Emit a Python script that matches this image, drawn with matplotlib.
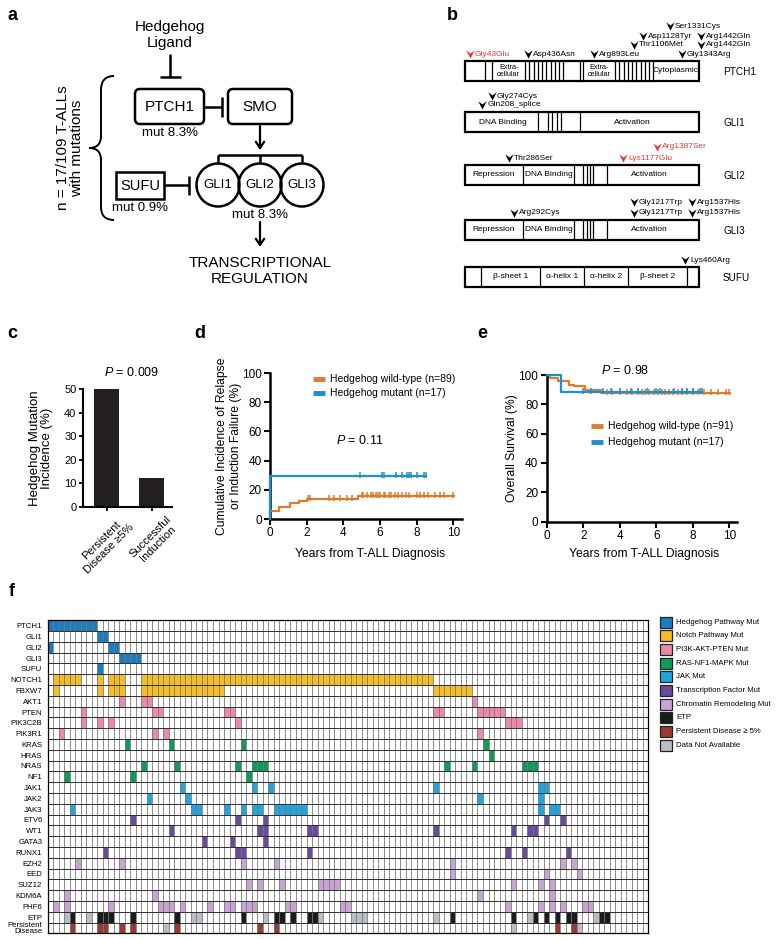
import numpy as np
import matplotlib
matplotlib.use("Agg")
import matplotlib.pyplot as plt
from matplotlib.patches import FancyBboxPatch, Rectangle, Circle, PathPatch
from matplotlib.path import Path
from matplotlib.colors import ListedColormap

# ── data ───────────────────────────────────────────────────────────────
# c: hedgehog mutation incidence by induction response
c_groups = ["Persistent\nDisease \u22655%", "Successful\nInduction"]
c_values = [50.0, 12.1]

# d: cumulative incidence of relapse / induction failure (step curves)
d_wt_t = [0, 0, 0.5, 1.1, 1.6, 2.0, 4.8, 10.05]
d_wt_v = [0, 5.6, 7.9, 11.2, 12.4, 13.6, 15.8, 15.8]
d_wt_cens = [2.1, 2.2, 3.2, 3.5, 3.8, 4.2, 4.5, 5.0, 5.1, 5.3, 5.5, 5.6, 5.8, 5.9,
             6.0, 6.2, 6.3, 6.5, 6.6, 6.8, 7.0, 7.2, 7.4, 7.6, 8.0, 8.2, 8.4, 8.6,
             9.0, 9.3, 9.5, 10.0]
d_mut_t = [0, 0, 8.5]
d_mut_v = [0, 29.4, 29.4]
d_mut_cens = [4.9, 6.1, 6.2, 6.9, 7.2, 7.5, 7.6, 7.7, 8.0, 8.4, 8.5]

# e: overall survival
e_wt_t = [0, 0.2, 0.6, 1.2, 1.5, 2.1, 3.0, 10.05]
e_wt_v = [100, 97.8, 95.6, 93.4, 92.3, 90.1, 87.9, 87.9]
e_wt_cens = [3.3, 3.6, 4.0, 4.4, 4.7, 5.0, 5.2, 5.4, 5.6, 5.9, 6.1, 6.3, 6.5, 6.7,
             6.9, 7.2, 7.4, 7.7, 8.0, 8.3, 8.6, 9.0, 9.4, 9.8, 10.0]
e_mut_t = [0, 0.8, 8.5]
e_mut_v = [100, 88.2, 88.2]
e_mut_cens = [2.0, 2.4, 3.1, 3.5, 4.0, 4.6, 5.0, 5.5, 6.0, 6.2, 7.0, 7.4, 7.7, 8.0, 8.4, 8.5]

# f: mutation matrix, column indices of mutated patients per gene
N_PAT = 109
row_labels = ["PTCH1", "GLI1", "GLI2", "GLI3", "SUFU", "NOTCH1", "FBXW7", "AKT1", "PTEN",
              "PIK3C2B", "PIK3R1", "KRAS", "HRAS", "NRAS", "NF1", "JAK1", "JAK2", "JAK3",
              "ETV6", "WT1", "GATA3", "RUNX1", "EZH2", "EED", "SUZ12", "KDM6A", "PHF6",
              "ETP", "Persistent\nDisease"]
row_group = [1, 1, 1, 1, 1, 2, 2, 3, 3, 3, 3, 4, 4, 4, 4, 5, 5, 5, 6, 6, 6, 6, 7, 7, 7, 7, 7]
gene_cols = [
    list(range(0, 9)),                                              # PTCH1
    [9, 10],                                                        # GLI1
    [0, 11, 12],                                                    # GLI2
    [13, 14, 15, 16],                                               # GLI3
    [9],                                                            # SUFU
    list(range(1, 6)) + [9, 11, 12, 13] + list(range(17, 70)),      # NOTCH1
    [1, 9, 11, 12, 13] + list(range(17, 32)) + list(range(70, 77)), # FBXW7
    [13, 17, 18, 77],                                               # AKT1
    [6, 19, 20, 32, 33, 70, 71, 78, 79, 80, 81, 82],                # PTEN
    [6, 9, 11, 34, 83, 84, 85],                                     # PIK3C2B
    [2, 19, 21, 78],                                                # PIK3R1
    [14, 22, 35, 79],                                               # KRAS
    [80],                                                           # HRAS
    [17, 23, 34, 37, 38, 39, 72, 77, 86, 87, 88],                   # NRAS
    [3, 15, 36],                                                    # NF1
    [24, 37, 40, 70, 89, 90],                                       # JAK1
    [18, 25, 78, 89],                                               # JAK2
    [4, 26, 27, 32, 35, 37, 38, 41, 42, 43, 44, 45, 46, 89, 91, 92],# JAK3
    [15, 34, 39, 90, 93],                                           # ETV6
    [22, 38, 39, 47, 48, 70, 84, 87, 88],                           # WT1
    [28, 33, 39],                                                   # GATA3
    [10, 34, 35, 47, 83, 86, 94],                                   # RUNX1
    [5, 13, 35, 41, 73, 93, 95],                                    # EZH2
    [73, 90, 96],                                                   # EED
    [36, 38, 42, 49, 50, 51, 52, 84, 89, 91],                       # SUZ12
    [3, 19, 78, 91],                                                # KDM6A
    [1, 3, 11, 20, 21, 22, 24, 29, 32, 33, 35, 36, 37, 43, 44, 53, 54,
     83, 89, 91, 93, 97, 98],                                       # PHF6
]
etp_pos = [4, 9, 10, 11, 15, 23, 35, 41, 42, 44, 47, 48, 73, 84, 88, 90, 92, 94, 95, 100, 101]
etp_na = [3, 7, 26, 27, 39, 49, 55, 56, 57, 70, 87, 99]
persist_pos = [4, 9, 10, 13, 15, 23, 38, 41, 92, 95]
persist_na = [21, 84, 96]

legend_labels = ["Hedgehog Pathway Mut", "Notch Pathway Mut", "PI3K-AKT-PTEN Mut",
                 "RAS-NF1-MAPK Mut", "JAK Mut", "Transcription Factor Mut",
                 "Chromatin Remodeling Mut", "ETP", "Persistent Disease \u2265 5%",
                 "Data Not Available"]
cat_colors = ["#ffffff", "#1c7cc0", "#f5bd27", "#ee87a8", "#0d9b57", "#20a5de",
              "#6a4a9c", "#c9a3d4", "#1b1b1b", "#9a3b33", "#b9bec6"]

# b: protein domain maps
proteins = ["PTCH1", "GLI1", "GLI2", "GLI3", "SUFU"]
prot_y = [61, 112, 165, 219.5, 267]   # bar tops (px)
PROT_X0, PROT_X1, PROT_H = 465, 699, 20
stripes1 = list(np.linspace(525, 563.3, 10))
stripes2 = list(np.linspace(615, 653.3, 10))
prot_dividers = [
    [485, 492.3] + stripes1 + [580, 583.3] + stripes2,
    [538.3, 548.3, 552.3, 556.7, 561, 580],
    [523.3, 574, 583, 586.5, 589.5, 592.5, 607],
    [523.3, 574, 583, 586.5, 589.5, 592.5, 607],
    [481, 540, 584, 628.3, 687.3],
]
prot_domains = [
    [("Extra-\ncellular", 508.7), ("Extra-\ncellular", 599), ("Cytoplasmic", 676)],
    [("DNA Binding", 503), ("Activation", 632.7)],
    [("Repression", 494), ("DNA Binding", 549), ("Activation", 649)],
    [("Repression", 494), ("DNA Binding", 549), ("Activation", 649)],
    [("\u03b2-sheet 1", 510.5), ("\u03b1-helix 1", 562), ("\u03b1-helix 2", 606), ("\u03b2-sheet 2", 658)],
]
# (x, y, label, highlighted)
mutations = [
    (470, 54, "Gly43Glu", True), (527.7, 54, "Asp436Asn", False),
    (594.3, 54, "Arg893Leu", False), (681.7, 54, "Gly1343Arg", False),
    (634, 45, "Thr1106Met", False), (701, 45, "Arg1442Gln", False),
    (643, 36, "Asp1128Tyr", False), (701, 36, "Arg1442Gln", False),
    (670, 26, "Ser1331Cys", False),
    (491.7, 96, "Gly274Cys", False), (482.3, 105, "Gln208_splice", False),
    (508.7, 158, "Thr286Ser", False), (623.3, 158, "Lys1177Glu", True),
    (657.3, 147, "Arg1387Ser", True),
    (514.3, 213, "Arg292Cys", False), (634, 213, "Gly1217Trp", False),
    (691.7, 213, "Arg1537His", False), (634, 202, "Gly1217Trp", False),
    (691.7, 202, "Arg1537His", False),
    (685, 260, "Lys460Arg", False),
]

# ── style ──────────────────────────────────────────────────────────────
W, H = 776, 939
plt.rcParams["font.family"] = ["Liberation Sans", "DejaVu Sans"]
plt.rcParams["mathtext.fontset"] = "custom"
plt.rcParams["mathtext.it"] = "Liberation Sans:italic"
plt.rcParams["mathtext.rm"] = "Liberation Sans"
ORANGE = "#e07a2a"
BLUE = "#1b8fd4"
RED = "#e8383d"

fig = plt.figure(figsize=(W / 100, H / 100), dpi=100)


def add_ax(x0, y0, x1, y1, **kw):
    return fig.add_axes([x0 / W, 1 - y1 / H, (x1 - x0) / W, (y1 - y0) / H], **kw)


# overlay in pixel coordinates for diagrams and free text
ov = add_ax(0, 0, W, H, zorder=5)
ov.set_xlim(0, W)
ov.set_ylim(H, 0)
ov.axis("off")

for lbl, (x, y) in zip("abcdef", [(12, 15), (452, 15), (12, 334), (200, 334), (482, 334), (12, 592)]):
    ov.text(x, y, lbl, fontsize=13, fontweight="bold", ha="center", va="center")

# ── a: pathway diagram ─────────────────────────────────────────────────
k = dict(color="k", lw=1.8, solid_capstyle="butt")
ov.text(170, 35, "Hedgehog\nLigand", fontsize=11, ha="center", va="center", linespacing=1.1)
ov.plot([170, 170], [54, 77], **k)
ov.plot([160, 181], [77, 77], **k)
for x0, x1, txt in [(135, 204, "PTCH1"), (228, 292, "SMO")]:
    ov.add_patch(FancyBboxPatch((x0, 89), x1 - x0, 35, boxstyle="round,pad=0,rounding_size=5",
                                fc="white", ec="k", lw=1.8))
    ov.text((x0 + x1) / 2, 107, txt, fontsize=11, ha="center", va="center")
ov.plot([204, 222], [107, 107], **k)
ov.plot([222, 222], [97, 117], **k)
ov.text(170, 133, "mut 8.3%", fontsize=9.5, ha="center", va="center")
arrow = dict(arrowstyle="->,head_length=0.45,head_width=0.3", lw=1.6, color="k",
             shrinkA=0, shrinkB=0)
ov.annotate("", xy=(260, 150), xytext=(260, 126), arrowprops=arrow)
ov.plot([218, 302], [155, 155], **k)
for x in [218, 260, 302]:
    ov.plot([x, x], [155, 162], **k)
for x, g in zip([218, 260, 302], ["GLI1", "GLI2", "GLI3"]):
    ov.add_patch(Circle((x, 185), 21.5, fc="none", ec="k", lw=1.8))
    ov.text(x, 185, g, fontsize=9.5, ha="center", va="center")
ov.add_patch(Rectangle((116, 172), 48, 27, fc="white", ec="k", lw=1.8))
ov.text(140, 185.5, "SUFU", fontsize=10.5, ha="center", va="center")
ov.plot([164, 189], [185, 185], **k)
ov.plot([189, 189], [176, 195], **k)
ov.text(140, 208, "mut 0.9%", fontsize=9.5, ha="center", va="center")
ov.text(260, 215, "mut 8.3%", fontsize=9.5, ha="center", va="center")
ov.annotate("", xy=(260, 247), xytext=(260, 222), arrowprops=arrow)
ov.text(260, 271, "TRANSCRIPTIONAL\nREGULATION", fontsize=11, ha="center", va="center",
        linespacing=1.2)
brace = Path(
    [(114, 76), (101, 76), (101, 90), (101, 136), (101, 148), (89, 148),
     (101, 148), (101, 160), (101, 207), (101, 220), (114, 220)],
    [Path.MOVETO, Path.CURVE3, Path.CURVE3, Path.LINETO, Path.CURVE3, Path.CURVE3,
     Path.CURVE3, Path.CURVE3, Path.LINETO, Path.CURVE3, Path.CURVE3])
ov.add_patch(PathPatch(brace, fc="none", ec="k", lw=1.4))
ov.text(70, 148, "n = 17/109 T-ALLs\nwith mutations", fontsize=11, rotation=90,
        ha="center", va="center", linespacing=1.05)

# ── b: protein maps ────────────────────────────────────────────────────
chevron = Path([(-1, 1), (0, -1), (1, 1), (0, 0.25), (-1, 1)],
               [Path.MOVETO, Path.LINETO, Path.LINETO, Path.LINETO, Path.CLOSEPOLY])
for name, y0, divs, doms in zip(proteins, prot_y, prot_dividers, prot_domains):
    ov.add_patch(Rectangle((PROT_X0, y0), PROT_X1 - PROT_X0, PROT_H, fc="white",
                           ec="k", lw=1.6))
    for x in divs:
        ov.plot([x, x], [y0, y0 + PROT_H], color="k", lw=0.9)
    for txt, x in doms:
        fs = 5.2 if "\n" in txt else 6.0
        ov.text(x, y0 + PROT_H / 2, txt, fontsize=fs, ha="center", va="center",
                linespacing=1.0)
    ov.text(723, y0 + PROT_H / 2 + 1, name, fontsize=7.2, ha="left", va="center")
for x, y, txt, hi in mutations:
    col = RED if hi else "k"
    ov.plot(x, y, marker=chevron, markersize=6, color=col, mew=0)
    ov.text(x + 5, y, txt, fontsize=6.0, ha="left", va="center", color=col)

# ── c: bar chart ───────────────────────────────────────────────────────
axc = add_ax(82.7, 389, 171.7, 506.7)
axc.bar(range(len(c_values)), c_values, width=0.55, color="#231f20")
axc.set_xlim(-0.533, 1.444)
axc.set_ylim(0, 50)
axc.set_yticks(range(0, 51, 10))
axc.set_xticks(range(len(c_values)))
axc.set_xticklabels([])
for s in ["top", "right"]:
    axc.spines[s].set_visible(False)
for s in ["left", "bottom"]:
    axc.spines[s].set_linewidth(1.5)
axc.tick_params(length=3, width=1.3, labelsize=8, pad=1.5)
axc.patch.set_visible(False)
for i, g in enumerate(c_groups):
    ov.text(106.7 + 45 * i + 14, 514, g, fontsize=8, rotation=45, ha="right", va="top",
            rotation_mode="anchor", multialignment="center", linespacing=1.1)
ov.text(132, 373, "$P$ = 0.009", fontsize=9, ha="center", va="center")
ov.text(41, 448, "Hedgehog Mutation\nIncidence (%)", fontsize=9.5, rotation=90,
        ha="center", va="center", linespacing=1.1)


# ── d, e: step curves ──────────────────────────────────────────────────
def censor_y(times, vals, ts):
    idx = np.searchsorted(times, ts, side="right") - 1
    return np.asarray(vals)[idx]


def km_axes(ax, curves, xmax):
    for t, v, cens, col in curves:
        ax.step(t, v, where="post", color=col, lw=1.6, clip_on=False, zorder=3)
        ax.plot(cens, censor_y(t, v, cens) + 0.8, ls="none", marker="|", ms=4,
                mew=1.1, color=col, clip_on=False, zorder=3)
    ax.set_xlim(0, xmax)
    ax.set_ylim(0, 100)
    ax.set_xticks(range(0, 11, 2))
    ax.set_yticks(range(0, 101, 20))
    for s in ["top", "right"]:
        ax.spines[s].set_visible(False)
    for s in ["left", "bottom"]:
        ax.spines[s].set_linewidth(1.8)
    ax.tick_params(length=4, width=1.5, labelsize=8.5, pad=2)
    ax.patch.set_visible(False)


axd = add_ax(270, 373, 461.7, 519)
km_axes(axd, [(d_wt_t, d_wt_v, d_wt_cens, ORANGE), (d_mut_t, d_mut_v, d_mut_cens, BLUE)], 10.46)
axd.plot([2.35, 3.0], [96, 96], color=ORANGE, lw=3.5, solid_capstyle="butt", clip_on=False)
axd.plot([2.35, 3.0], [86, 86], color=BLUE, lw=3.5, solid_capstyle="butt", clip_on=False)
axd.text(3.3, 96, "Hedgehog wild-type (n=89)", fontsize=7.5, va="center")
axd.text(3.3, 86, "Hedgehog mutant (n=17)", fontsize=7.5, va="center")
axd.text(4.9, 54, "$P$ = 0.11", fontsize=9, ha="center", va="center")
ov.text(370, 554, "Years from T-ALL Diagnosis", fontsize=8.7, ha="center", va="center")
ov.text(229, 446, "Cumulative Incidence of Relapse\nor Induction Failure (%)", fontsize=8.7,
        rotation=90, ha="center", va="center", linespacing=1.15)

axe = add_ax(546.7, 375, 736.7, 521.5)
km_axes(axe, [(e_wt_t, e_wt_v, e_wt_cens, ORANGE), (e_mut_t, e_mut_v, e_mut_cens, BLUE)], 10.41)
axe.plot([2.41, 3.1], [65, 65], color=ORANGE, lw=3.5, solid_capstyle="butt")
axe.plot([2.41, 3.1], [54.6, 54.6], color=BLUE, lw=3.5, solid_capstyle="butt")
axe.text(3.34, 65, "Hedgehog wild-type (n=91)", fontsize=7.5, va="center")
axe.text(3.34, 54.6, "Hedgehog mutant (n=17)", fontsize=7.5, va="center")
axe.text(4.3, 103, "$P$ = 0.98", fontsize=9, ha="center", va="center", clip_on=False)
ov.text(644, 554, "Years from T-ALL Diagnosis", fontsize=8.7, ha="center", va="center")
ov.text(512, 448, "Overall Survival (%)", fontsize=8.7, rotation=90, ha="center", va="center")

# ── f: mutation heatmap ────────────────────────────────────────────────
mat = np.zeros((len(row_labels), N_PAT), dtype=int)
for r, (cols, grp) in enumerate(zip(gene_cols, row_group)):
    mat[r, cols] = grp
mat[27, etp_na] = 10
mat[27, etp_pos] = 8
mat[28, persist_na] = 10
mat[28, persist_pos] = 9

axf = add_ax(47.7, 620.2, 648.3, 933.4)
axf.pcolormesh(mat, cmap=ListedColormap(cat_colors), vmin=-0.5, vmax=10.5)
for x in range(1, N_PAT):
    axf.axvline(x, color="#7a7a7a", lw=0.6)
for y in range(1, len(row_labels)):
    axf.axhline(y, color="#2e2e2e", lw=0.7)
axf.set_xlim(0, N_PAT)
axf.set_ylim(len(row_labels), 0)
axf.set_xticks([])
axf.set_yticks(np.arange(len(row_labels)) + 0.5)
axf.set_yticklabels(row_labels, fontsize=5.6, linespacing=0.85)
axf.tick_params(axis="y", length=0, pad=4)
for s in axf.spines.values():
    s.set_linewidth(0.9)

for i, (lab, col) in enumerate(zip(legend_labels, cat_colors[1:])):
    y = 622 + 13.7 * i
    ov.add_patch(Rectangle((660, y - 5.5), 12, 11, fc=col, ec="#222222", lw=0.9))
    ov.text(676, y, lab, fontsize=5.6, va="center", ha="left")

fig.savefig("out.png", dpi=100)
